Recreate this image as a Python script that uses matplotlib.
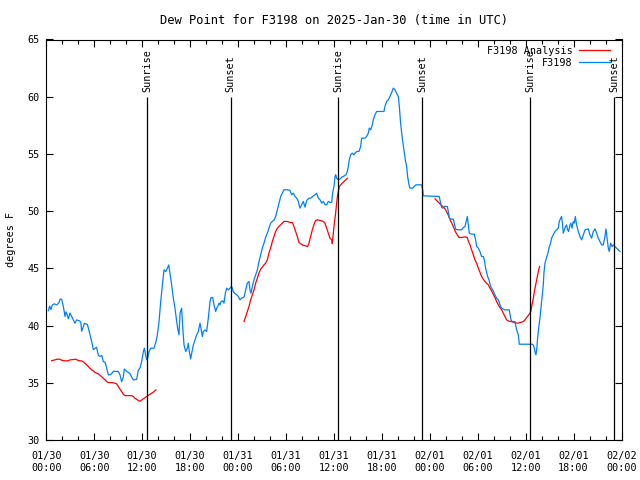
import matplotlib
matplotlib.use('Agg')
import matplotlib.dates as mdates
import matplotlib.pyplot as plt
import numpy as np
import pandas as pd
from matplotlib.ticker import MultipleLocator

START = pd.Timestamp('2025-01-30 00:00')
TITLE = 'Dew Point for F3198 on 2025-Jan-30 (time in UTC)'

# station observations, hours since 01/30 00:00 UTC
obs_hours = [
    0.25, 0.42, 0.59, 0.75, 1.0, 1.3, 1.59, 1.71, 1.92, 2.05, 2.2, 2.34, 2.47,
    2.63, 2.76, 2.97, 3.17, 3.38, 3.59, 3.8, 4.2, 4.34, 4.42, 4.64, 4.76, 5.13,
    5.26, 5.47, 5.68, 5.89, 6.1, 6.3, 6.51, 6.72, 6.93, 7.14, 7.35, 7.55, 7.76,
    7.97, 8.18, 8.39, 9.0, 9.22, 9.43, 9.64, 9.77, 10.06, 10.48, 10.68, 10.89,
    11.31, 11.52, 11.73, 11.94, 12.15, 12.27, 12.44, 12.56, 12.69, 12.86,
    13.07, 13.48, 13.73, 13.9, 14.11, 14.32, 14.53, 14.73, 14.94, 15.15,
    15.32, 15.48, 15.69, 15.9, 16.11, 16.32, 16.44, 16.61, 16.74, 16.94,
    17.07, 17.24, 17.45, 17.65, 17.78, 17.9, 18.07, 18.2, 18.41, 18.61, 18.82,
    19.03, 19.24, 19.36, 19.53, 19.66, 19.87, 20.07, 20.28, 20.49, 20.62,
    20.83, 20.99, 21.2, 21.33, 21.45, 21.62, 21.74, 21.87, 22.08, 22.24,
    22.41, 22.58, 22.79, 22.99, 23.2, 23.41, 23.62, 23.83, 24.04, 24.25,
    24.45, 24.75, 24.96, 25.16, 25.37, 25.5, 25.62, 25.79, 26.0, 26.21, 26.42,
    26.62, 26.83, 27.04, 27.25, 27.46, 27.67, 27.87, 28.08, 28.29, 28.54,
    28.71, 28.92, 29.13, 29.34, 29.54, 29.75, 30.17, 30.5, 30.71, 30.92,
    31.13, 31.34, 31.55, 31.75, 31.96, 32.17, 32.38, 32.59, 32.88, 33.13,
    33.34, 33.63, 33.84, 34.05, 34.26, 34.47, 34.68, 34.88, 35.09, 35.3,
    35.51, 35.72, 35.84, 36.01, 36.14, 36.22, 36.34, 36.55, 36.76, 36.97,
    37.18, 37.51, 37.68, 37.8, 37.93, 38.1, 38.3, 38.51, 38.72, 38.93, 39.14,
    39.35, 39.47, 39.89, 40.1, 40.31, 40.43, 40.6, 40.81, 40.93, 41.14, 41.35,
    41.98, 42.27, 42.39, 42.6, 42.81, 43.02, 43.23, 43.44, 43.65, 43.85,
    44.06, 44.19, 44.35, 44.56, 44.77, 44.94, 45.11, 45.23, 45.4, 45.52,
    45.86, 46.06, 46.27, 46.69, 46.98, 47.11, 47.19, 49.19, 49.36, 49.49,
    49.69, 49.82, 50.2, 50.32, 50.45, 50.65, 50.95, 51.07, 51.24, 51.57,
    51.99, 52.2, 52.41, 52.61, 52.7, 52.82, 52.95, 53.24, 53.57, 53.74,
    53.87, 54.08, 54.28, 54.49, 54.7, 54.83, 54.99, 55.24, 55.41, 55.62,
    55.74, 55.95, 56.16, 56.37, 56.58, 56.79, 57.0, 57.41, 57.95, 58.16,
    58.33, 58.66, 58.87, 59.08, 59.21, 60.88, 61.04, 61.17, 61.29, 61.38,
    61.5, 61.63, 61.79, 61.92, 62.04, 62.21, 62.29, 62.42, 62.63, 62.84,
    62.96, 63.13, 63.25, 63.46, 63.67, 63.88, 64.09, 64.21, 64.38, 64.5,
    64.63, 64.71, 64.84, 65.0, 65.13, 65.26, 65.38, 65.55, 65.67, 65.8,
    65.96, 66.09, 66.22, 66.38, 66.59, 66.8, 67.01, 67.22, 67.43, 67.84,
    68.05, 68.26, 68.47, 68.68, 68.89, 69.09, 69.3, 69.51, 69.72, 69.93,
    70.05, 70.22, 70.35, 70.47, 70.64, 70.8, 70.97, 71.18, 71.39, 71.6, 71.81,
]
obs_dewpt = [
    41.3, 41.7, 41.4, 41.8, 41.9, 41.8, 42.0, 42.3, 42.3, 41.95, 41.4, 40.8,
    41.2, 40.9, 40.6, 41.1, 40.8, 40.5, 40.2, 40.5, 40.4, 40.2, 39.5, 39.9,
    40.2, 40.1, 39.8, 39.2, 38.6, 37.9, 38.0, 38.1, 37.4, 37.3, 37.4, 36.85,
    36.8, 36.3, 35.7, 35.7, 35.8, 36.0, 36.0, 35.7, 35.1, 35.5, 36.2, 36.0,
    35.8, 35.5, 35.25, 35.3, 36.1, 36.3, 36.86, 37.73, 38.02, 37.44, 37.0,
    37.15, 37.73, 38.02, 38.02, 38.6, 39.19, 40.35, 42.1, 43.56, 44.87, 44.72,
    45.0, 45.3, 44.58, 43.56, 42.39, 41.52, 40.35, 39.77, 39.19, 41.08, 41.52,
    39.92, 38.31, 37.73, 38.02, 38.46, 37.73, 37.09, 37.58, 38.31, 38.75,
    39.19, 39.48, 40.21, 39.77, 39.04, 39.48, 39.62, 39.48, 40.64, 42.1,
    42.45, 42.45, 41.81, 41.23, 41.52, 41.66, 41.96, 41.81, 42.1, 42.16,
    41.96, 42.83, 43.27, 43.12, 43.27, 43.41, 42.97, 42.8, 42.69, 42.54,
    42.25, 42.4, 42.48, 43.12, 43.71, 43.85, 43.12, 42.83, 43.42, 44.0, 44.44,
    44.87, 45.6, 46.18, 46.77, 47.2, 47.73, 48.08, 48.52, 48.95, 49.1, 49.24,
    49.53, 50.12, 50.7, 51.28, 51.57, 51.87, 51.87, 51.81, 51.43, 51.57,
    51.28, 51.14, 50.85, 50.26, 50.56, 50.85, 50.35, 50.93, 51.14, 51.14,
    51.28, 51.43, 51.57, 51.14, 51.0, 50.7, 50.85, 50.56, 50.56, 50.85,
    50.76, 50.76, 51.57, 52.16, 53.03, 53.18, 52.88, 52.74, 52.8, 52.97,
    53.03, 53.18, 53.47, 53.9, 54.49, 54.92, 55.07, 54.92, 55.13, 55.22,
    55.22, 55.65, 56.38, 56.38, 56.53, 56.82, 57.26, 57.11, 57.55, 57.98,
    58.42, 58.71, 58.71, 58.71, 59.15, 59.59, 59.73, 60.02, 60.37, 60.75,
    60.61, 60.31, 60.02, 59.15, 57.69, 56.38, 55.36, 54.49, 53.9, 53.03,
    52.3, 52.01, 52.01, 52.16, 52.3, 52.3, 52.3, 51.87, 51.34, 51.28, 50.7,
    50.32, 50.26, 50.41, 50.41, 49.97, 49.39, 49.3, 49.3, 48.95, 48.42,
    48.37, 48.37, 48.57, 48.66, 49.24, 49.53, 48.8, 48.07, 47.99, 47.99,
    47.49, 46.91, 46.76, 46.47, 46.04, 46.04, 45.74, 45.02, 44.29, 44.0,
    43.41, 43.27, 43.03, 42.68, 42.39, 42.25, 41.81, 41.52, 41.37, 41.37,
    40.5, 40.35, 40.35, 39.63, 39.19, 38.37, 38.37, 38.17, 37.73, 37.44,
    37.88, 38.9, 39.77, 40.64, 41.52, 42.39, 43.56, 44.58, 45.45, 45.95,
    46.47, 46.91, 47.2, 47.64, 47.93, 48.22, 48.36, 48.51, 49.09, 49.38,
    49.53, 48.8, 48.07, 48.36, 48.66, 48.8, 48.36, 48.22, 48.8, 48.95, 48.51,
    49.09, 48.95, 49.53, 48.8, 48.22, 47.78, 47.49, 47.93, 48.36, 48.45,
    47.93, 47.64, 48.22, 48.45, 48.07, 47.64, 47.35, 47.05, 47.05, 47.78,
    48.45, 47.49, 46.76, 46.47, 47.2, 46.91, 47.05, 46.91, 46.76, 46.62,
    46.47,
]

# analysis, nan marks gaps
nan = float('nan')
ana_hours = [
    0.67, 1.09, 1.3, 1.71, 1.92, 2.13, 2.55, 2.76, 2.97, 3.38, 3.59, 3.8,
    4.01, 4.43, 4.63, 4.84, 5.05, 5.26, 5.47, 5.68, 5.89, 6.09, 6.3, 6.51,
    6.72, 6.93, 7.14, 7.35, 7.55, 7.76, 8.18, 8.6, 8.81, 9.01, 9.22, 9.43,
    9.64, 9.85, 10.27, 10.68, 10.89, 11.1, 11.31, 11.52, 11.73, 11.94, 12.15,
    12.56, 12.98, 13.4, 13.73, 19.0,
    24.75, 24.96, 25.16, 25.37, 25.58, 25.79, 26.0, 26.21, 26.42, 26.62,
    26.83, 27.04, 27.25, 27.46, 27.67, 27.87, 28.08, 28.29, 28.5, 28.71,
    28.92, 29.13, 29.34, 29.54, 29.75, 30.17, 30.5, 30.8, 31.0, 31.21, 31.42,
    31.63, 31.84, 32.17, 32.46, 32.71, 32.88, 33.09, 33.3, 33.5, 33.71, 33.92,
    34.26, 34.68, 34.88, 35.09, 35.3, 35.51, 35.72, 35.8, 35.93, 36.05, 36.22,
    36.34, 36.47, 36.6, 36.68, 36.85, 37.05, 37.26, 37.47, 37.68, 43.0,
    48.65, 49.07, 49.49, 49.78, 49.99, 50.2, 50.4, 50.61, 50.82, 51.03,
    51.24, 51.45, 51.66, 51.99, 52.41, 52.7, 52.82, 53.03, 53.24, 53.45,
    53.66, 53.87, 54.08, 54.28, 54.49, 54.7, 54.91, 55.12, 55.33, 55.54,
    55.74, 55.95, 56.16, 56.37, 56.58, 56.79, 57.0, 57.2, 57.41, 57.62,
    57.83, 58.16, 58.46, 58.66, 59.08, 59.5, 59.71, 59.92, 60.12, 60.33,
    60.54, 60.67, 60.79, 60.96, 61.08, 61.21, 61.38, 61.5, 61.63, 61.75,
]
ana_dewpt = [
    36.94, 37.0, 37.06, 37.06, 36.97, 36.94, 36.91, 36.94, 37.0, 37.03,
    37.06, 37.03, 36.94, 36.91, 36.83, 36.71, 36.56, 36.42, 36.27, 36.13,
    36.04, 35.92, 35.84, 35.78, 35.66, 35.54, 35.4, 35.25, 35.11, 35.02,
    35.02, 34.96, 34.9, 34.67, 34.44, 34.23, 34.0, 33.88, 33.88, 33.88, 33.8,
    33.65, 33.56, 33.45, 33.39, 33.5, 33.6, 33.8, 34.0, 34.18, 34.38, nan,
    40.36, 40.79, 41.23, 41.67, 42.25, 42.69, 43.12, 43.71, 44.14, 44.58,
    44.93, 45.11, 45.31, 45.46, 45.75, 46.33, 46.77, 47.35, 47.79, 48.22,
    48.51, 48.66, 48.81, 48.95, 49.1, 49.1, 49.01, 49.01, 48.66, 48.22,
    47.79, 47.26, 47.15, 47.0, 46.97, 46.91, 47.2, 47.79, 48.37, 48.81,
    49.19, 49.24, 49.19, 49.1, 48.95, 48.51, 48.08, 47.64, 47.5, 47.15,
    48.08, 48.95, 49.83, 50.7, 51.43, 51.87, 52.16, 52.3, 52.45, 52.59,
    52.74, 52.88, nan,
    51.08, 50.78, 50.49, 50.32, 50.11, 49.82, 49.53, 49.15, 48.86, 48.51,
    48.16, 47.93, 47.7, 47.7, 47.75, 47.7, 47.4, 47.06, 46.62, 46.18,
    45.74, 45.45, 45.02, 44.67, 44.29, 44.05, 43.85, 43.68, 43.56, 43.27,
    43.03, 42.74, 42.45, 42.1, 41.81, 41.58, 41.37, 41.08, 40.79, 40.5,
    40.41, 40.35, 40.3, 40.24, 40.21, 40.3, 40.35, 40.5, 40.7, 40.88,
    41.08, 41.28, 41.81, 42.39, 42.92, 43.41, 44.0, 44.43, 44.87, 45.16,
]

sun_times = ['2025-01-30 12:36', '2025-01-30 23:04', '2025-01-31 12:34',
             '2025-01-31 23:05', '2025-02-01 12:35', '2025-02-01 23:06']
sun_names = ['Sunrise', 'Sunset', 'Sunrise', 'Sunset', 'Sunrise', 'Sunset']


def to_time(hours):
    return START + pd.to_timedelta(np.asarray(hours), unit='h')


plt.rcParams['font.family'] = 'DejaVu Sans Mono'
plt.rcParams['font.size'] = 7.3

fig = plt.figure(figsize=(6.4, 4.8), dpi=100)
ax = fig.add_axes([46.3 / 640, 40 / 480, 575.2 / 640, 400.5 / 480])

ax.plot(to_time(ana_hours), ana_dewpt, color='#ff0000', lw=0.9,
        label='F3198 Analysis')
ax.plot(to_time(obs_hours), obs_dewpt, color='#0080ff', lw=0.9,
        label='F3198')

sun = pd.to_datetime(sun_times)
ax.vlines(sun, 30, 60, color='black', lw=0.9)
for t, name in zip(sun, sun_names):
    ax.text(t, 60.4, name, rotation=90, ha='center', va='bottom')

ax.set_xlim(START, START + pd.Timedelta(days=3))
ax.set_ylim(30, 65)
ax.xaxis.set_major_locator(mdates.HourLocator(byhour=range(0, 24, 6)))
ax.xaxis.set_minor_locator(mdates.HourLocator(byhour=range(0, 24, 2)))
ax.xaxis.set_major_formatter(mdates.DateFormatter('%m/%d\n%H:%M'))
ax.yaxis.set_major_locator(MultipleLocator(5))
ax.tick_params(which='both', direction='in', top=True, right=True,
               width=0.8, pad=5)
ax.tick_params(axis='x', which='major', pad=8)
ax.tick_params(which='major', length=5)
ax.tick_params(which='minor', length=3)
for s in ax.spines.values():
    s.set_linewidth(0.8)

ax.set_title(TITLE, pad=11)
ax.set_ylabel('degrees F')
ax.yaxis.set_label_coords(-0.053, 0.5)

leg = ax.legend(loc='upper right', bbox_to_anchor=(1 - 4.5 / 575, 1 + 1 / 400),
                frameon=False, markerfirst=False,
                handlelength=3.0, handletextpad=0.7, labelspacing=0.2,
                borderaxespad=0.3, fontsize=7.3)
for col in leg._legend_handle_box.get_children():
    col.align = 'right'

fig.savefig('out.png', dpi=100)
